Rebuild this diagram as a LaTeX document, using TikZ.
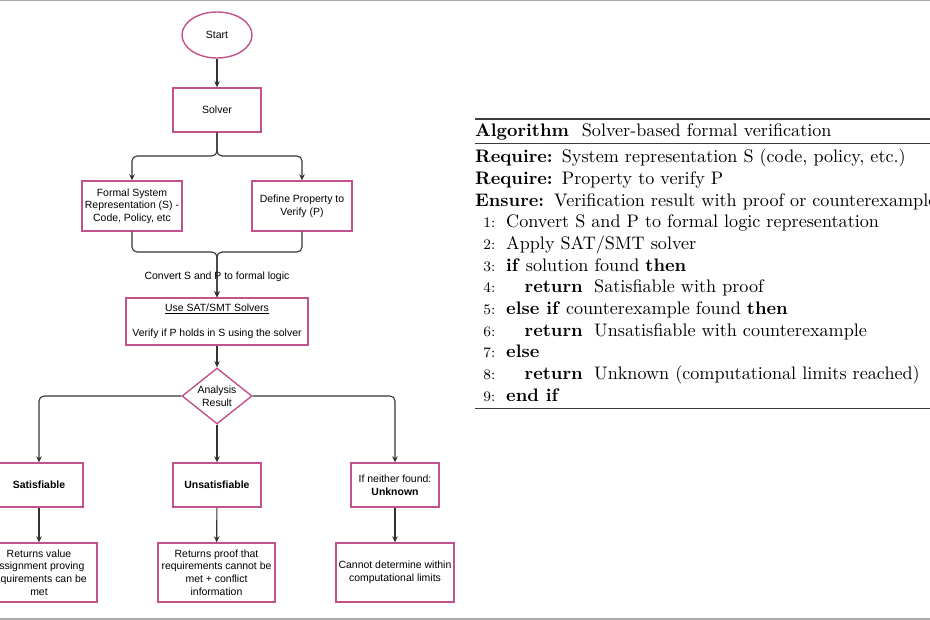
\documentclass[tikz,border=0pt]{standalone}
\usepackage{fontspec}
\newfontfamily\arialf{Liberation Sans}
\usetikzlibrary{shapes.geometric,arrows.meta}
\definecolor{pinkc}{RGB}{194,82,140}
\definecolor{linec}{RGB}{51,51,51}
\definecolor{rulec}{RGB}{170,170,170}
\definecolor{algrule}{RGB}{60,60,60}
\newcommand\ff{\arialf\fontsize{10.5}{12.7}\selectfont}
\newcommand\AS[1]{\scalebox{1.82}{#1}}
\begin{document}
\begin{tikzpicture}[x=1bp,y=-1bp,
  box/.style={draw=pinkc, line width=1.4bp, fill=white, inner sep=0pt, align=center, font=\ff},
  startn/.style={ellipse, draw=pinkc, line width=1.4bp, fill=white, inner sep=0pt, font=\ff, minimum width=70bp, minimum height=46bp},
  dia/.style={diamond, draw=pinkc, line width=1.4bp, fill=white, inner sep=0pt, minimum width=70bp, minimum height=56bp},
  txt/.style={inner sep=0pt, align=center, font=\ff},
  conn/.style={draw=linec, line width=1.1bp, rounded corners=5bp, -{Stealth[length=6bp,width=5.5bp]}},
  alg/.style={anchor=base west, inner sep=0pt},
  algn/.style={anchor=base east, inner sep=0pt}]
\useasboundingbox (0,0) rectangle (930,620);
\clip (0,0) rectangle (930,620);
\fill[white] (0,0) rectangle (930,620);
\draw[rulec, line width=1.5bp] (0,0.75) -- (930,0.75);
\draw[rulec, line width=1.5bp] (0,619.2) -- (930,619.2);

% ---------- flowchart ----------
\node[startn] (start) at (217,35) {Start};
\node[box, minimum width=88bp, minimum height=44bp] (solver) at (217,110) {Solver};
\node[box, minimum width=100bp, minimum height=50bp] (formal) at (132,206) {Formal System\\Representation (S) -\\Code, Policy, etc};
\node[box, minimum width=100bp, minimum height=50bp] (define) at (302,206) {Define Property to\\Verify (P)};
\node[box, minimum width=182bp, minimum height=47bp] (use) at (217,321.5) {\underline{Use SAT/SMT Solvers}\\[12.7pt]Verify if P holds in S using the solver};
\node[dia] (dia) at (217,396) {};
\node[txt] (diat) at (dia.center) {Analysis\\Result};
\node[box, minimum width=88bp, minimum height=44bp] (sat) at (39,485) {\textbf{Satisfiable}};
\node[box, minimum width=88bp, minimum height=44bp] (unsat) at (217,485) {\textbf{Unsatisfiable}};
\node[box, minimum width=88bp, minimum height=44bp] (unk) at (395,485) {If neither found:\\\textbf{Unknown}};
\node[box, minimum width=116bp, minimum height=59bp] (satres) at (39,572.5) {Returns value\\assignment proving\\requirements can be\\met};
\node[box, minimum width=117bp, minimum height=59bp] (unsatres) at (216.5,572.5) {Returns proof that\\requirements cannot be\\met + conflict\\information};
\node[box, minimum width=118bp, minimum height=59bp] (unkres) at (395,572.5) {Cannot determine within\\computational limits};

\coordinate (j1) at (217,156);
\coordinate (j2) at (217,252);
\draw[conn] (start) -- (solver);
\draw[conn] (solver.south) -- (j1) -| (formal.north);
\draw[conn] (solver.south) -- (j1) -| (define.north);
\draw[conn] (formal.south) |- (j2) -- (use.north);
\draw[conn] (define.south) |- (j2) -- (use.north);
\node[txt] (conv) at (217,277) {Convert S and P to formal logic};
\draw[conn] (use) -- (dia);
\draw[conn] (dia.west) -| (sat.north);
\draw[conn] (dia.south) -- (unsat.north);
\draw[conn] (dia.east) -| (unk.north);
\draw[conn] (sat) -- (satres);
\draw[conn] (unsat) -- (unsatres);
\draw[conn] (unk) -- (unkres);

% ---------- algorithm ----------
\draw[algrule, line width=1.5bp] (475,119) -- (935,119);
\draw[algrule, line width=0.8bp] (475,143) -- (935,143);
\draw[algrule, line width=0.8bp] (475,408) -- (935,408);
\node[alg] (ah) at (475,136.5) {\AS{\textbf{Algorithm}}};
\node[alg] (ac) at (581.7,136.5) {\AS{Solver-based formal verification}};
\node[alg] (r1) at (475,163) {\AS{\textbf{Require:}}};
\node[alg] (r1t) at (561.7,163) {\AS{System representation S (code, policy, etc.)}};
\node[alg] (r2) at (475,184.6) {\AS{\textbf{Require:}}};
\node[alg] (r2t) at (561.7,184.6) {\AS{Property to verify P}};
\node[alg] (en) at (475,206.3) {\AS{\textbf{Ensure:}}};
\node[alg] (ent) at (554,206.3) {\AS{Verification result with proof or counterexample}};
\node[algn] (n1) at (495.5,228) {\AS{\footnotesize 1:}};
\node[alg] (l1) at (506,228) {\AS{Convert S and P to formal logic representation}};
\node[algn] (n2) at (495.5,249.65) {\AS{\footnotesize 2:}};
\node[alg] (l2) at (506,249.65) {\AS{Apply SAT/SMT solver}};
\node[algn] (n3) at (495.5,271.3) {\AS{\footnotesize 3:}};
\node[alg] (l3) at (506,271.3) {\AS{\textbf{if} solution found \textbf{then}}};
\node[algn] (n4) at (495.5,292.95) {\AS{\footnotesize 4:}};
\node[alg] (l4) at (524.5,292.95) {\AS{\textbf{return}}};
\node[alg] (l4t) at (594,292.95) {\AS{Satisfiable with proof}};
\node[algn] (n5) at (495.5,314.6) {\AS{\footnotesize 5:}};
\node[alg] (l5) at (506,314.6) {\AS{\textbf{else if} counterexample found \textbf{then}}};
\node[algn] (n6) at (495.5,336.25) {\AS{\footnotesize 6:}};
\node[alg] (l6) at (524.5,336.25) {\AS{\textbf{return}}};
\node[alg] (l6t) at (594,336.25) {\AS{Unsatisfiable with counterexample}};
\node[algn] (n7) at (495.5,357.9) {\AS{\footnotesize 7:}};
\node[alg] (l7) at (506,357.9) {\AS{\textbf{else}}};
\node[algn] (n8) at (495.5,379.55) {\AS{\footnotesize 8:}};
\node[alg] (l8) at (524.5,379.55) {\AS{\textbf{return}}};
\node[alg] (l8t) at (594,379.55) {\AS{Unknown (computational limits reached)}};
\node[algn] (n9) at (495.5,401.2) {\AS{\footnotesize 9:}};
\node[alg] (l9) at (506,401.2) {\AS{\textbf{end if}}};
\end{tikzpicture}
\end{document}
